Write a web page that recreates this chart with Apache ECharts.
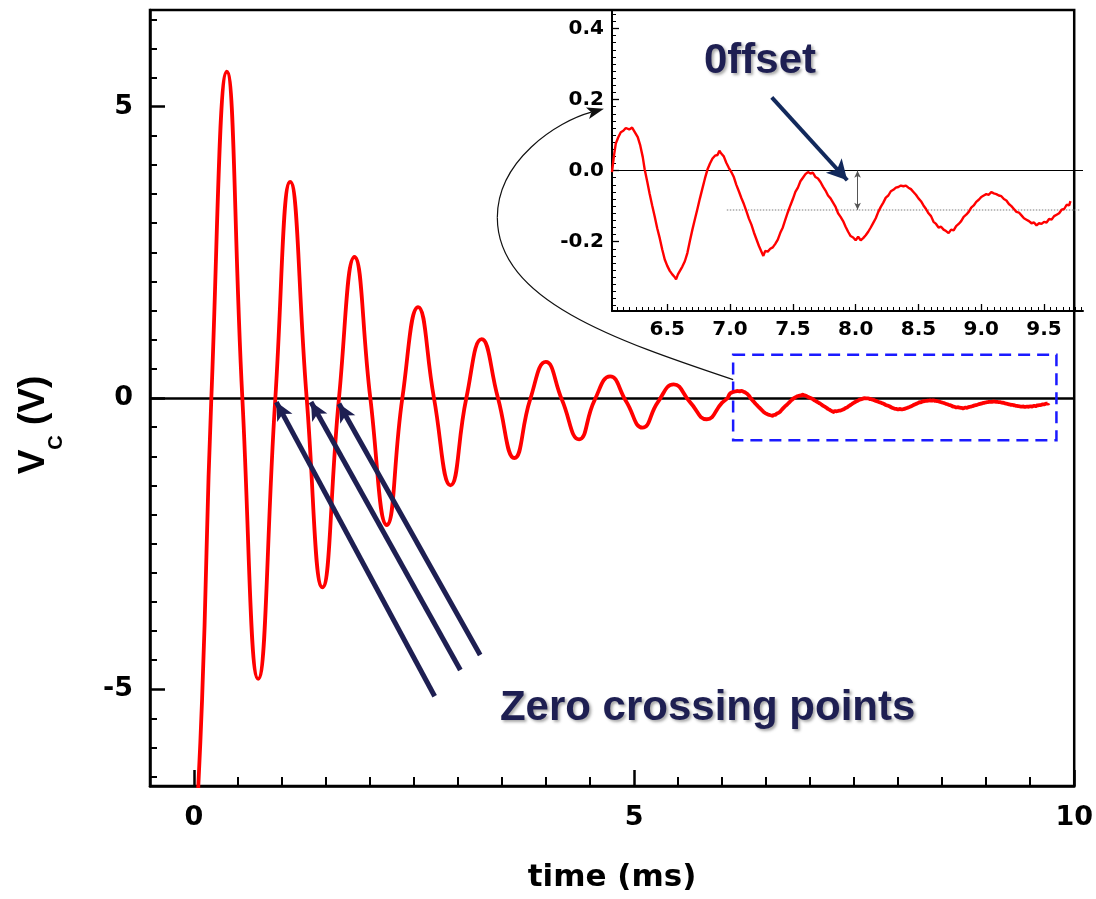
<!DOCTYPE html>
<html><head><meta charset="utf-8">
<script src="https://cdn.jsdelivr.net/npm/echarts@6/dist/echarts.min.js"></script>
<style>html,body{margin:0;padding:0;background:#fff}#c{width:1096px;height:899px}</style>
</head><body><div id="c"></div>
<script>
// ---- main trace: peaks, troughs and crossings (time ms, volts)
const mainTime = [0.000, 0.092, 0.197, 0.373, 0.549, 0.729, 0.924, 1.093, 1.280, 1.459, 1.647, 1.823, 2.003, 2.190, 2.367, 2.546, 2.726, 2.914, 3.094, 3.268, 3.453, 3.640, 3.820, 3.997, 4.180, 4.375, 4.550, 4.727, 4.910, 5.095, 5.270, 5.450, 5.635, 5.826, 6.000];
const mainVolt = [-8.00, -5.16, 0.00, 5.60, 0.00, -4.82, 0.00, 3.71, 0.00, -3.25, 0.00, 2.42, 0.00, -2.18, 0.00, 1.56, 0.00, -1.50, 0.00, 1.01, 0.00, -1.03, -0.02, 0.62, -0.03, -0.71, -0.04, 0.37, -0.06, -0.51, -0.07, 0.235, -0.07, -0.365, -0.08];

// ---- inset trace (noisy tail)
const insetTrace = [
[6.060,-0.004],[6.075,0.040],[6.090,0.076],[6.110,0.094],[6.130,0.108],[6.150,0.112],[6.170,0.120],[6.197,0.116],[6.220,0.121],[6.245,0.106],
[6.265,0.094],[6.285,0.071],[6.305,0.038],[6.320,0.004],[6.340,-0.030],[6.360,-0.066],[6.380,-0.098],[6.400,-0.129],[6.420,-0.162],[6.440,-0.190],
[6.460,-0.222],[6.480,-0.250],[6.500,-0.268],[6.520,-0.282],[6.540,-0.292],[6.560,-0.300],[6.570,-0.306],[6.585,-0.292],[6.600,-0.290],[6.620,-0.270],
[6.640,-0.255],[6.660,-0.232],[6.680,-0.198],[6.700,-0.166],[6.720,-0.137],[6.740,-0.108],[6.760,-0.078],[6.780,-0.050],[6.800,-0.022],[6.820,0.003],
[6.840,0.020],[6.860,0.034],[6.880,0.042],[6.900,0.044],[6.915,0.056],[6.930,0.048],[6.950,0.040],[6.970,0.022],[6.990,0.008],[7.010,-0.004],
[7.030,-0.018],[7.050,-0.040],[7.070,-0.058],[7.090,-0.077],[7.110,-0.094],[7.130,-0.114],[7.150,-0.135],[7.170,-0.152],[7.190,-0.174],[7.210,-0.193],
[7.230,-0.212],[7.250,-0.228],[7.265,-0.240],[7.280,-0.226],[7.300,-0.228],[7.320,-0.220],[7.340,-0.216],[7.360,-0.206],[7.380,-0.194],[7.400,-0.175],
[7.420,-0.160],[7.440,-0.138],[7.460,-0.117],[7.480,-0.098],[7.500,-0.080],[7.520,-0.060],[7.540,-0.048],[7.560,-0.030],[7.580,-0.020],[7.600,-0.010],
[7.620,-0.004],[7.640,-0.008],[7.660,-0.006],[7.680,-0.018],[7.700,-0.022],[7.720,-0.032],[7.740,-0.045],[7.760,-0.056],[7.780,-0.070],[7.800,-0.078],
[7.820,-0.090],[7.840,-0.102],[7.860,-0.120],[7.880,-0.130],[7.900,-0.142],[7.920,-0.158],[7.940,-0.172],[7.960,-0.184],[7.980,-0.188],[8.000,-0.196],
[8.020,-0.186],[8.040,-0.196],[8.060,-0.190],[8.080,-0.182],[8.100,-0.172],[8.120,-0.160],[8.140,-0.147],[8.160,-0.134],[8.180,-0.116],[8.200,-0.102],
[8.220,-0.090],[8.240,-0.076],[8.260,-0.070],[8.280,-0.058],[8.300,-0.054],[8.320,-0.048],[8.340,-0.046],[8.360,-0.042],[8.380,-0.044],[8.400,-0.042],
[8.420,-0.048],[8.440,-0.052],[8.460,-0.060],[8.480,-0.068],[8.500,-0.078],[8.520,-0.086],[8.540,-0.098],[8.560,-0.108],[8.580,-0.120],[8.600,-0.128],
[8.620,-0.144],[8.640,-0.150],[8.660,-0.160],[8.680,-0.158],[8.700,-0.166],[8.720,-0.170],[8.740,-0.176],[8.760,-0.166],[8.780,-0.168],[8.800,-0.156],
[8.820,-0.150],[8.840,-0.142],[8.860,-0.130],[8.880,-0.124],[8.900,-0.116],[8.920,-0.104],[8.940,-0.098],[8.960,-0.088],[8.980,-0.082],[9.000,-0.074],
[9.020,-0.070],[9.040,-0.066],[9.060,-0.068],[9.080,-0.060],[9.100,-0.064],[9.120,-0.066],[9.140,-0.070],[9.160,-0.072],[9.180,-0.080],[9.200,-0.084],
[9.220,-0.094],[9.240,-0.100],[9.260,-0.108],[9.280,-0.116],[9.300,-0.118],[9.320,-0.126],[9.340,-0.134],[9.360,-0.138],[9.380,-0.142],[9.400,-0.148],
[9.420,-0.146],[9.440,-0.154],[9.460,-0.148],[9.480,-0.150],[9.500,-0.144],[9.520,-0.146],[9.540,-0.136],[9.560,-0.138],[9.580,-0.128],[9.600,-0.124],
[9.620,-0.120],[9.640,-0.110],[9.660,-0.108],[9.680,-0.096],[9.700,-0.098],[9.710,-0.086]
];

// ---- tick labels
const mainXLabels = [0, 5, 10];
const mainYLabels = [-5, 0, 5];
const insetXLabels = [6.5, 7.0, 7.5, 8.0, 8.5, 9.0, 9.5];
const insetYLabels = [-0.2, 0.0, 0.2, 0.4];

// ---- annotation anchors (data coordinates)
const crossArrows = [[[2.734,-5.12],[0.935,-0.07]],[[3.026,-4.67],[1.329,-0.07]],[[3.251,-4.41],[1.647,-0.10]]];
const zoomBox = [[6.125,0.744],[9.798,-0.726]];
const offsetArrow = [[7.332,0.206],[7.933,-0.027]];
const offsetLevel = -0.11;
const offsetLevelSpan = [6.974, 9.79];
const offsetMarkT = 8.015;
const zeroLabelAt = [5.835,-5.32];
const offsetLabelAt = [7.238,0.308];
const arcPoints = [[6.125,0.315],[4.795,0.99],[3.446,1.675],[3.446,3.099],[3.446,4.077],[4.121,4.746],[4.657,4.964]];

function steps(a, b, s, skip) {
  const out = [];
  const n = Math.round((b - a) / s);
  for (let i = 0; i <= n; i++) {
    const v = +(a + i * s).toFixed(4);
    if (!skip || !skip.some(k => Math.abs(k - v) < 1e-6)) out.push(v);
  }
  return out;
}
const mainXMinor = steps(-0.5, 9.5, 0.5, mainXLabels);
const mainYMinor = steps(-6.5, 6.5, 0.5, mainYLabels);
const insetXMinor = steps(6.1, 9.8, 0.05, insetXLabels);
const insetYMinor = steps(-0.38, 0.44, 0.02, insetYLabels);

const chartFont = 'DejaVu Sans';
const noteFont = 'Liberation Sans';
const navy = '#1e1f52';

const mainData = mainTime.map((t, i) => [t, mainVolt[i]]).concat(insetTrace);

const X0 = {min: -0.5, max: 10};
const Y0 = {min: -6.66, max: 6.66};
const X1 = {min: 6.06, max: 9.81};
const Y1 = {min: -0.395, max: 0.452};

function axisBase(grid, r, pos, extra) {
  return Object.assign({gridIndex: grid, type: 'value', min: r.min, max: r.max, position: pos,
    splitLine: {show: false}, axisPointer: {show: false}}, extra);
}

const option = {
  animation: false,
  backgroundColor: '#fff',
  grid: [
    {left: 150, right: 13, top: 10, bottom: 113, show: true, borderColor: '#000', borderWidth: 2.5, backgroundColor: 'transparent'},
    {left: 612, right: 13, top: 10, bottom: 588, show: false}
  ],
  xAxis: [
    axisBase(0, X0, 'bottom', {
      axisLine: {onZero: false, lineStyle: {color: '#000', width: 2.5}},
      axisTick: {inside: true, length: 16, customValues: mainXLabels, lineStyle: {color: '#000', width: 2.5}},
      axisLabel: {customValues: mainXLabels, margin: 18, color: '#000', fontFamily: chartFont, fontWeight: 'bold', fontSize: 27,
        alignMinLabel: 'center', alignMaxLabel: 'center'},
      name: 'time (ms)', nameLocation: 'middle', nameGap: 76,
      nameTextStyle: {color: '#000', fontFamily: chartFont, fontWeight: 'bold', fontSize: 31}
    }),
    axisBase(0, X0, 'bottom', {
      axisLine: {show: false, onZero: false},
      axisTick: {inside: true, length: 9, customValues: mainXMinor, lineStyle: {color: '#000', width: 2}},
      axisLabel: {show: false}
    }),
    axisBase(1, X1, 'bottom', {
      axisLine: {onZero: false, lineStyle: {color: '#000', width: 2}},
      axisTick: {inside: true, length: 7, customValues: insetXLabels, lineStyle: {color: '#000', width: 1.3}},
      axisLabel: {customValues: insetXLabels, margin: 9, color: '#000', fontFamily: chartFont, fontWeight: 'bold', fontSize: 20,
        formatter: v => v.toFixed(1)}
    }),
    axisBase(1, X1, 'bottom', {
      axisLine: {show: false, onZero: false},
      axisTick: {inside: true, length: 4, customValues: insetXMinor, lineStyle: {color: '#000', width: 1}},
      axisLabel: {show: false}
    })
  ],
  yAxis: [
    axisBase(0, Y0, 'left', {
      axisLine: {onZero: false, lineStyle: {color: '#000', width: 2.5}},
      axisTick: {inside: true, length: 15, customValues: mainYLabels, lineStyle: {color: '#000', width: 2.5}},
      axisLabel: {customValues: mainYLabels, margin: 17, color: '#000', fontFamily: chartFont, fontWeight: 'bold', fontSize: 27},
      name: '{a|V}{b|C}{a| (V)}{p| }', nameLocation: 'middle', nameRotate: 90, nameGap: 91,
      nameTextStyle: {color: '#000', fontFamily: noteFont, fontWeight: 'bold', fontSize: 37,
        rich: {
          a: {fontFamily: noteFont, fontWeight: 'bold', fontSize: 37, lineHeight: 44, verticalAlign: 'top', color: '#000'},
          b: {fontFamily: noteFont, fontWeight: 'bold', fontSize: 20, lineHeight: 22, padding: [31, 0, 0, 0], verticalAlign: 'top', color: '#000'},
          p: {width: 54, fontSize: 10}
        }}
    }),
    axisBase(0, Y0, 'left', {
      axisLine: {show: false, onZero: false},
      axisTick: {inside: true, length: 7, customValues: mainYMinor, lineStyle: {color: '#000', width: 2}},
      axisLabel: {show: false}
    }),
    axisBase(1, Y1, 'left', {
      axisLine: {onZero: false, lineStyle: {color: '#000', width: 2}},
      axisTick: {inside: true, length: 7, customValues: insetYLabels, lineStyle: {color: '#000', width: 1.3}},
      axisLabel: {customValues: insetYLabels, margin: 8, color: '#000', fontFamily: chartFont, fontWeight: 'bold', fontSize: 20,
        formatter: v => v.toFixed(1)}
    }),
    axisBase(1, Y1, 'left', {
      axisLine: {show: false, onZero: false},
      axisTick: {inside: true, length: 4, customValues: insetYMinor, lineStyle: {color: '#000', width: 1}},
      axisLabel: {show: false}
    })
  ],
  series: [
    { // main zero line
      type: 'line', xAxisIndex: 0, yAxisIndex: 0, data: [], z: 1, silent: true,
      markLine: {z: 1, silent: true, symbol: 'none', label: {show: false},
        lineStyle: {color: '#000', width: 2.5, type: 'solid'}, data: [{yAxis: 0}]}
    },
    { // main trace
      type: 'line', xAxisIndex: 0, yAxisIndex: 0, data: mainData, smooth: true, showSymbol: false, z: 3,
      lineStyle: {color: '#ff0000', width: 3.8}, itemStyle: {color: '#ff0000'},
      markArea: {silent: true, z: 2,
        itemStyle: {color: 'rgba(0,0,0,0)', borderColor: '#1a1aff', borderWidth: 2.5, borderType: [12, 7]},
        data: [[{coord: zoomBox[0]}, {coord: zoomBox[1]}]]},
      markLine: {silent: true, z: 6, symbol: ['none', 'arrow'], symbolSize: [13, 18], label: {show: false},
        lineStyle: {color: navy, width: 5, type: 'solid'},
        data: crossArrows.map(a => [{coord: a[0]}, {coord: a[1]}])}
    },
    { // inset zero line, offset level
      type: 'line', xAxisIndex: 2, yAxisIndex: 2, data: [], z: 1, silent: true,
      markLine: {z: 1, silent: true, symbol: 'none', label: {show: false},
        data: [
          {yAxis: 0, lineStyle: {color: '#000', width: 1.2, type: 'solid'}},
          [{coord: [offsetLevelSpan[0], offsetLevel], lineStyle: {color: '#a8a8a8', width: 1.5, type: 'dotted'}},
           {coord: [offsetLevelSpan[1], offsetLevel]}]
        ]}
    },
    { // inset trace
      type: 'line', xAxisIndex: 2, yAxisIndex: 2, data: insetTrace, showSymbol: false, z: 3,
      lineStyle: {color: '#ff0000', width: 2.4}, itemStyle: {color: '#ff0000'},
      markLine: {silent: true, z: 6, label: {show: false},
        data: [
          [{coord: offsetArrow[0], symbol: 'none', lineStyle: {color: '#12295c', width: 4, type: 'solid'}},
           {coord: offsetArrow[1], symbol: 'arrow', symbolSize: [16, 20]}],
          [{coord: [offsetMarkT, 0], symbol: 'arrow', symbolSize: [5, 7], lineStyle: {color: '#555', width: 1, type: 'solid'}},
           {coord: [offsetMarkT, offsetLevel], symbol: 'arrow', symbolSize: [5, 7]}]
        ]}
    }
  ]
};

const chart = echarts.init(document.getElementById('c'));
chart.setOption(option);

const toMain = p => chart.convertToPixel({seriesIndex: 1}, p);
const toInset = p => chart.convertToPixel({seriesIndex: 3}, p);
const A = arcPoints.map(toMain);
const tip = A[6], base = A[5];
let dx = tip[0] - base[0], dy = tip[1] - base[1];
const dl = Math.hypot(dx, dy); dx /= dl; dy /= dl;
const headLen = 17, headHalf = 6;
const bx = tip[0] - dx * headLen, by = tip[1] - dy * headLen;
const zl = toMain(zeroLabelAt);
const ol = toInset(offsetLabelAt);
const shadow = {textShadowColor: 'rgba(60,60,60,0.45)', textShadowBlur: 3, textShadowOffsetX: 2, textShadowOffsetY: 2};

chart.setOption({
  graphic: [
    {type: 'bezierCurve', z: 20, silent: true,
      shape: {x1: A[0][0], y1: A[0][1], cpx1: A[1][0], cpy1: A[1][1], cpx2: A[2][0], cpy2: A[2][1], x2: A[3][0], y2: A[3][1]},
      style: {stroke: '#111', lineWidth: 1.2, fill: null}},
    {type: 'bezierCurve', z: 20, silent: true,
      shape: {x1: A[3][0], y1: A[3][1], cpx1: A[4][0], cpy1: A[4][1], cpx2: A[5][0], cpy2: A[5][1], x2: bx + dx * 4, y2: by + dy * 4},
      style: {stroke: '#111', lineWidth: 1.2, fill: null}},
    {type: 'polygon', z: 21, silent: true,
      shape: {points: [[tip[0], tip[1]], [bx - dy * headHalf, by + dx * headHalf], [bx + dx * 4, by + dy * 4], [bx + dy * headHalf, by - dx * headHalf]]},
      style: {fill: '#111'}},
    {type: 'text', z: 22, silent: true, x: zl[0], y: zl[1],
      style: Object.assign({text: 'Zero crossing points', font: 'bold 42px "' + noteFont + '"', fill: navy,
        align: 'center', verticalAlign: 'middle', textAlign: 'center', textVerticalAlign: 'middle'}, shadow)},
    {type: 'text', z: 22, silent: true, x: ol[0], y: ol[1],
      style: Object.assign({text: '0ffset', font: 'bold 42px "' + noteFont + '"', fill: navy,
        align: 'center', verticalAlign: 'middle', textAlign: 'center', textVerticalAlign: 'middle'}, shadow)}
  ]
});
</script>
</body></html>
